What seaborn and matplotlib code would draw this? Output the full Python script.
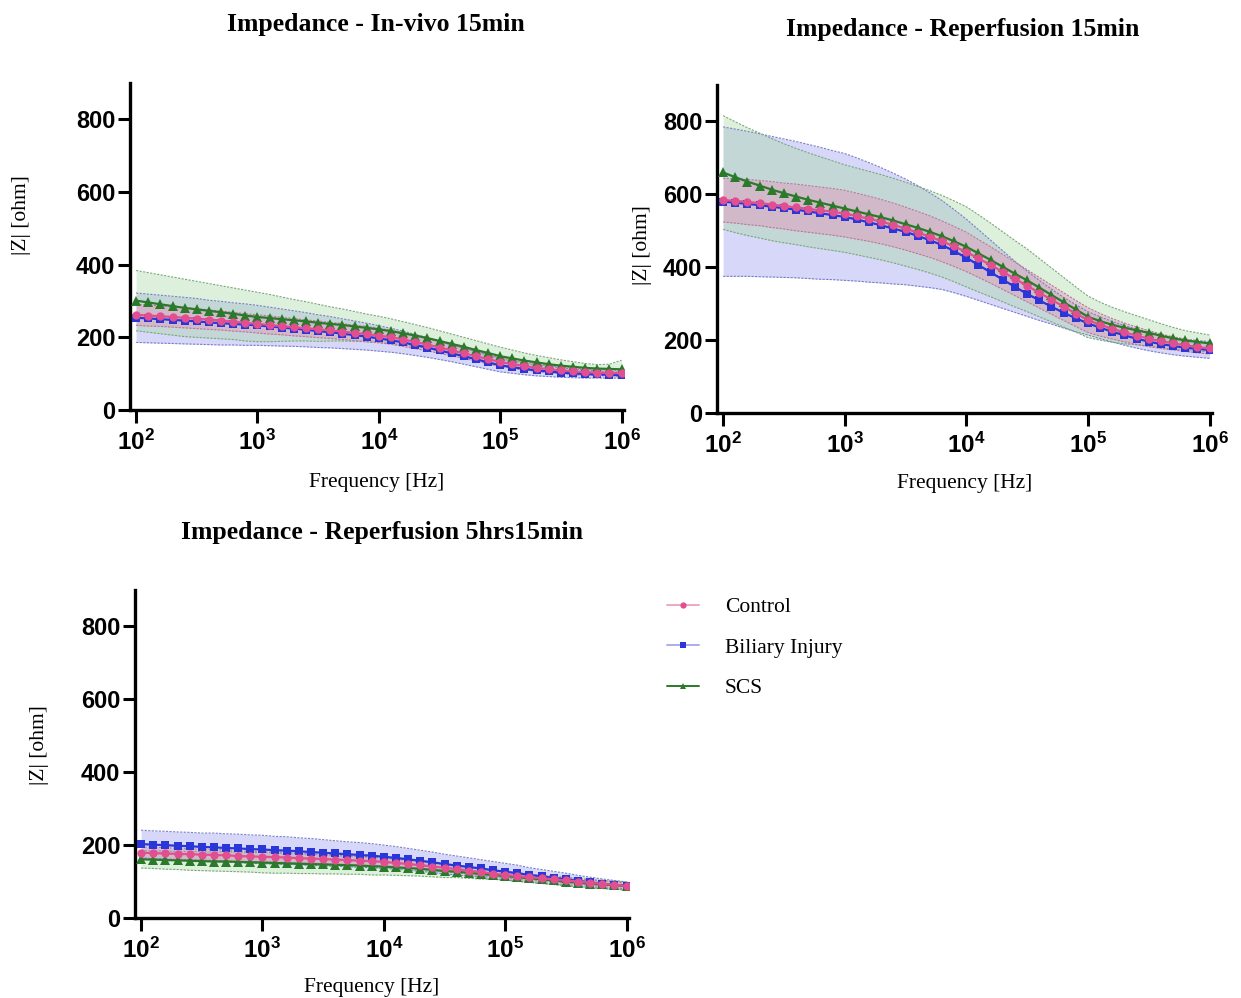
import numpy as np
import pandas as pd
import matplotlib
matplotlib.use("Agg")
import matplotlib.pyplot as plt
from matplotlib.lines import Line2D
from matplotlib.ticker import NullLocator
import seaborn as sns

# ---------------- data ----------------
freq_hz = [100, 126, 158, 200, 251, 316, 398, 501, 631, 794,
           1000, 1259, 1585, 1995, 2512, 3162, 3981, 5012, 6310, 7943,
           10000, 12589, 15849, 19953, 25119, 31623, 39811, 50119, 63096, 79433,
           100000, 125893, 158489, 199526, 251189, 316228, 398107, 501187, 630957, 794328,
           1000000]

groups = ["Control", "Biliary Injury", "SCS"]
panel_titles = ["Impedance - In-vivo 15min",
                "Impedance - Reperfusion 15min",
                "Impedance - Reperfusion 5hrs15min"]
x_tick_values = [1e2, 1e3, 1e4, 1e5, 1e6]
x_tick_labels = [r"$\mathrm{10^{2}}$", r"$\mathrm{10^{3}}$", r"$\mathrm{10^{4}}$",
                 r"$\mathrm{10^{5}}$", r"$\mathrm{10^{6}}$"]
y_tick_values = [0, 200, 400, 600, 800]

# Panel 1: In-vivo 15min
p1_control_mean = [262, 260, 258, 256, 254, 251, 249, 246, 243, 240,
                   237, 234, 231, 228, 225, 222, 219, 216, 212, 209,
                   205, 200, 194, 187, 180, 172, 164, 156, 148, 140,
                   132, 126, 121, 116, 112, 109, 106, 104, 103, 102,
                   101]
p1_control_sd = [29, 29, 28, 28, 28, 27, 27, 26, 26, 25,
                 25, 25, 24, 24, 23, 23, 22, 22, 21, 21,
                 20, 19, 19, 18, 17, 16, 15, 14, 13, 13,
                 12, 11, 11, 10, 10, 9, 9, 9, 8, 8,
                 8]
p1_biliary_mean = [254, 252, 250, 248, 246, 244, 241, 239, 237, 235,
                   233, 230, 227, 224, 221, 217, 214, 210, 206, 202,
                   197, 192, 186, 179, 172, 164, 156, 148, 140, 131,
                   123, 118, 113, 109, 106, 103, 101, 99, 98, 97,
                   96]
p1_biliary_sd = [68, 67, 66, 65, 64, 63, 61, 60, 58, 57,
                 55, 53, 51, 49, 47, 45, 43, 41, 39, 37,
                 35, 33, 31, 29, 27, 25, 23, 22, 21, 19,
                 18, 17, 16, 15, 14, 13, 12, 11, 10, 9,
                 8]
p1_scs_mean = [301, 296, 291, 286, 281, 277, 273, 269, 265, 260,
               256, 253, 250, 247, 244, 240, 237, 234, 230, 226,
               222, 217, 211, 205, 198, 190, 182, 174, 165, 157,
               148, 142, 136, 131, 126, 122, 119, 116, 114, 113,
               112]
p1_scs_sd = [83, 82, 81, 80, 79, 77, 75, 73, 71, 70,
             68, 65, 61, 57, 54, 51, 47, 44, 41, 38,
             36, 34, 32, 30, 29, 28, 27, 26, 26, 25,
             25, 23, 21, 19, 18, 16, 14, 12, 11, 13,
             25]

# Panel 2: Reperfusion 15min
p2_control_mean = [584, 582, 579, 576, 572, 568, 564, 560, 556, 552,
                   547, 540, 533, 525, 516, 506, 495, 484, 471, 457,
                   442, 424, 406, 387, 368, 349, 330, 311, 292, 273,
                   255, 242, 231, 221, 212, 204, 197, 191, 186, 181,
                   177]
p2_control_sd = [60, 61, 62, 62, 63, 63, 64, 64, 64, 64,
                 64, 63, 62, 61, 60, 59, 58, 57, 56, 55,
                 54, 52, 50, 48, 46, 44, 42, 40, 38, 36,
                 34, 31, 28, 26, 24, 22, 20, 18, 17, 16,
                 15]
p2_biliary_mean = [580, 577, 574, 570, 566, 562, 558, 553, 548, 543,
                   538, 531, 523, 515, 506, 497, 486, 474, 461, 444,
                   426, 406, 386, 366, 346, 327, 309, 292, 275, 260,
                   246, 234, 223, 213, 204, 196, 189, 184, 179, 176,
                   173]
p2_biliary_sd = [205, 202, 199, 196, 193, 190, 187, 184, 181, 177,
                 174, 169, 164, 158, 152, 145, 138, 130, 122, 114,
                 106, 97, 88, 79, 70, 62, 55, 48, 42, 37,
                 32, 30, 28, 27, 26, 25, 24, 24, 23, 23,
                 23]
p2_scs_mean = [660, 647, 635, 624, 613, 603, 594, 585, 577, 569,
               561, 553, 545, 537, 528, 518, 508, 497, 485, 471,
               456, 438, 420, 401, 382, 364, 344, 324, 304, 284,
               264, 252, 242, 234, 227, 220, 212, 205, 199, 195,
               191]
p2_scs_sd = [156, 152, 148, 144, 140, 136, 132, 129, 126, 123,
             120, 119, 118, 117, 116, 115, 114, 113, 112, 111,
             110, 106, 101, 96, 91, 86, 80, 74, 68, 62,
             57, 52, 48, 44, 40, 36, 33, 30, 27, 25,
             23]

# Panel 3: Reperfusion 5hrs15min
p3_control_mean = [179, 178, 177, 176, 175, 174, 173, 172, 170, 169,
                   168, 167, 166, 164, 163, 162, 160, 159, 157, 156,
                   154, 151, 148, 145, 141, 138, 134, 130, 126, 122,
                   118, 115, 112, 109, 106, 103, 100, 97, 94, 91,
                   88]
p3_control_sd = [16, 16, 16, 15, 15, 15, 15, 15, 15, 14,
                 14, 14, 14, 14, 13, 13, 13, 13, 13, 12,
                 12, 12, 11, 11, 11, 10, 10, 10, 10, 9,
                 9, 9, 9, 8, 8, 8, 8, 8, 8, 8,
                 8]
p3_biliary_mean = [203, 201, 200, 198, 197, 195, 194, 192, 191, 189,
                   188, 186, 185, 183, 181, 179, 177, 175, 173, 171,
                   168, 165, 161, 157, 153, 148, 144, 140, 136, 131,
                   127, 123, 118, 114, 110, 106, 102, 98, 94, 91,
                   88]
p3_biliary_sd = [38, 38, 38, 38, 38, 38, 39, 39, 39, 39,
                 39, 38, 38, 37, 37, 36, 35, 34, 34, 33,
                 32, 31, 30, 29, 28, 27, 26, 25, 24, 24,
                 23, 22, 20, 19, 18, 17, 15, 14, 13, 12,
                 11]
p3_scs_mean = [161, 160, 159, 158, 157, 156, 155, 155, 154, 153,
               152, 151, 150, 149, 148, 147, 146, 145, 144, 142,
               141, 139, 137, 135, 132, 129, 127, 124, 121, 118,
               115, 112, 109, 106, 103, 100, 97, 94, 92, 90,
               88]
p3_scs_sd = [24, 24, 25, 25, 26, 26, 26, 27, 27, 27,
             28, 28, 27, 27, 26, 26, 25, 25, 24, 24,
             23, 22, 21, 20, 19, 18, 16, 15, 14, 12,
             11, 11, 11, 11, 11, 11, 11, 11, 11, 11,
             11]

panels = [
    {"Control": (p1_control_mean, p1_control_sd),
     "Biliary Injury": (p1_biliary_mean, p1_biliary_sd),
     "SCS": (p1_scs_mean, p1_scs_sd)},
    {"Control": (p2_control_mean, p2_control_sd),
     "Biliary Injury": (p2_biliary_mean, p2_biliary_sd),
     "SCS": (p2_scs_mean, p2_scs_sd)},
    {"Control": (p3_control_mean, p3_control_sd),
     "Biliary Injury": (p3_biliary_mean, p3_biliary_sd),
     "SCS": (p3_scs_mean, p3_scs_sd)},
]

# ---------------- style ----------------
sns.set_style("ticks")
plt.rcParams["font.family"] = ["Liberation Serif", "DejaVu Serif"]
plt.rcParams["mathtext.fontset"] = "custom"
plt.rcParams["mathtext.rm"] = "Liberation Sans:bold"
plt.rcParams["mathtext.it"] = "Liberation Sans:bold"
plt.rcParams["mathtext.bf"] = "Liberation Sans:bold"
for key in ["text.color", "axes.labelcolor", "xtick.color", "ytick.color",
            "xtick.labelcolor", "ytick.labelcolor", "axes.edgecolor"]:
    plt.rcParams[key] = "black"

line_colors = {"Control": "#e24f90", "Biliary Injury": "#2a36d8", "SCS": "#2b7a2b"}
marker_colors = line_colors
fill_colors = {"Control": "#e596b8", "Biliary Injury": "#a6a8f2", "SCS": "#a8d8a2"}
edge_colors = {"Control": "#b77a98", "Biliary Injury": "#7a80c8", "SCS": "#7aa87a"}
fill_alpha = {"Control": 0.45, "Biliary Injury": 0.45, "SCS": 0.38}
markers = {"Control": "o", "Biliary Injury": "s", "SCS": "^"}
draw_order = ["Biliary Injury", "SCS", "Control"]

fig = plt.figure(figsize=(12.41, 9.98), dpi=100)
W, H = 1241, 998
# axes boxes in pixels: left, top, right, bottom
boxes = [(130, 83, 624, 410), (717, 85, 1212, 413), (135, 590, 629, 918)]
ylabel_x = [-0.200, -0.132, -0.174]
ylabel_y = [0.596, 0.512, 0.527]
title_pos = [(0.498, 1.180), (0.497, 1.168), (0.500, 1.176)]
xlabel_pos = [(0.50, -0.194), (0.50, -0.186), (0.48, -0.184)]

axes = []
for k, (l, t, r, b) in enumerate(boxes):
    ax = fig.add_axes([l / W, 1 - b / H, (r - l) / W, (b - t) / H])
    axes.append(ax)
    data = panels[k]
    rows = []
    for g in groups:
        m, s = data[g]
        for f, mv, sv in zip(freq_hz, m, s):
            rows.append({"freq": f, "mean": mv, "sd": sv, "group": g})
    df = pd.DataFrame(rows)

    for g in draw_order:
        sub = df[df["group"] == g]
        lo = sub["mean"] - sub["sd"]
        hi = sub["mean"] + sub["sd"]
        ax.fill_between(sub["freq"], lo, hi, color=fill_colors[g],
                        alpha=fill_alpha[g], linewidth=0, zorder=1)
        ax.plot(sub["freq"], hi, ls=(0, (2, 1.2)), lw=0.8, color=edge_colors[g], zorder=2)
        ax.plot(sub["freq"], lo, ls=(0, (2, 1.2)), lw=0.8, color=edge_colors[g], zorder=2)

    for g in draw_order:
        sub = df[df["group"] == g]
        sns.lineplot(data=sub, x="freq", y="mean", ax=ax, color=line_colors[g],
                     marker=markers[g], markersize=6 if g != "SCS" else 6.5,
                     markeredgewidth=0, markerfacecolor=marker_colors[g],
                     linewidth=1.6, legend=False, zorder=3, errorbar=None)

    ax.set_xscale("log")
    ax.set_xlim(10 ** 1.95, 10 ** 6.02)
    ax.set_ylim(0, 900)
    ax.set_xticks(x_tick_values)
    ax.set_xticklabels(x_tick_labels)
    ax.xaxis.set_minor_locator(NullLocator())
    ax.set_yticks(y_tick_values)
    ax.set_yticklabels([str(v) for v in y_tick_values])
    for lab in ax.get_yticklabels():
        lab.set_fontfamily("Liberation Sans")
        lab.set_fontweight("bold")
        lab.set_fontsize(17)
    for lab in ax.get_xticklabels():
        lab.set_fontsize(17.5)
    sns.despine(ax=ax)
    for sp in ["left", "bottom"]:
        ax.spines[sp].set_linewidth(2.4)
        ax.spines[sp].set_color("black")
    ax.tick_params(axis="both", which="major", length=9, width=2.2,
                   color="black", labelcolor="black", direction="out")
    ax.tick_params(axis="y", pad=1.5)
    ax.tick_params(axis="x", pad=5)

    ax.set_xlabel("Frequency [Hz]", fontsize=15.5, family="Liberation Serif")
    ax.xaxis.set_label_coords(*xlabel_pos[k])
    ax.set_ylabel("|Z| [ohm]", fontsize=15.5, family="Liberation Serif")
    ax.yaxis.set_label_coords(ylabel_x[k], ylabel_y[k])
    ax.text(title_pos[k][0], title_pos[k][1], panel_titles[k], transform=ax.transAxes,
            ha="center", va="center", fontsize=18.5, fontweight="bold",
            family="Liberation Serif")

# legend
legend_line_colors = {"Control": "#f0a8c2", "Biliary Injury": "#a8aeee", "SCS": "#2b7a2b"}
handles = [Line2D([0], [0], color=legend_line_colors[g], lw=1.4, marker=markers[g],
                  markersize=4.5, markerfacecolor=marker_colors[g], markeredgewidth=0)
           for g in groups]
fig.legend(handles, groups, loc="upper left", bbox_to_anchor=(667 / W, 1 - 597 / H),
           frameon=False, handlelength=1.5, handletextpad=1.2,
           labelspacing=0.95, borderpad=0, borderaxespad=0,
           prop={"family": "Liberation Serif", "size": 15.5})

fig.savefig("out.png", dpi=100)
